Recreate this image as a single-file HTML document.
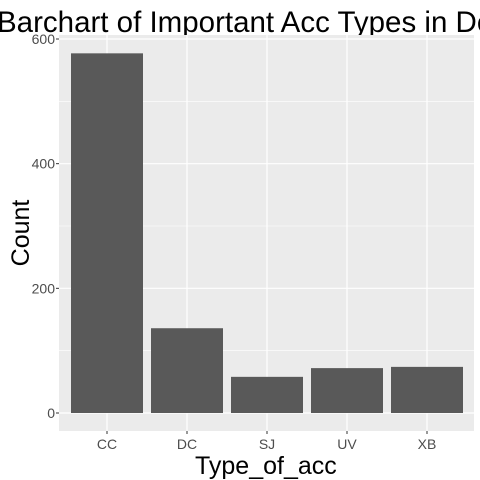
<!DOCTYPE html>
<html><head><meta charset="utf-8"><style>body{margin:0;background:#fff}svg{display:block}text{font-family:"Liberation Sans",Arial,sans-serif}</style></head>
<body>
<svg id="c" width="480" height="480" xmlns="http://www.w3.org/2000/svg">
<text x="-3" y="32" font-size="29.5" fill="#000">Barchart of Important Acc Types in Dec</text>
<text x="195" y="474" font-size="25" fill="#000">Type_of_acc</text>
<text transform="translate(29,233) rotate(-90)" text-anchor="middle" font-size="25" fill="#000">Count</text>
<g id="g"></g>
</svg>
<script>
const categories=["CC","DC","SJ","UV","XB"];
const counts=[577,136,58,72,74];
const yTicks=[0,200,400,600];
const L=59,R=474,T=35,B=431,y0=413,k=374/600,band=80,cx0=107;
const y=v=>y0-v*k, x=i=>cx0+i*band;
const ns="http://www.w3.org/2000/svg",g=document.getElementById('g');
function mk(t,a,p){const e=document.createElementNS(ns,t);for(const n in a)e.setAttribute(n,a[n]);(p||g).appendChild(e);return e;}
const panel=mk('rect',{x:L,y:T,width:R-L,height:B-T,fill:'#ebebeb'});


for(let i=0;i<yTicks.length-1;i++){const m=(yTicks[i]+yTicks[i+1])/2;const l=mk('line',{x1:L,x2:R,y1:y(m),y2:y(m),stroke:'#fff','stroke-width':0.6});

}
yTicks.forEach(v=>{const l=mk('line',{x1:L,x2:R,y1:y(v),y2:y(v),stroke:'#fff','stroke-width':1.2});


const tk=mk('line',{x1:L-3,x2:L,y1:y(v),y2:y(v),stroke:'#333','stroke-width':1});


const t=mk('text',{x:L-4,y:y(v)+5,'text-anchor':'end','font-size':14,fill:'#4d4d4d'});t.textContent=v;

});
categories.forEach((c,i)=>{const l=mk('line',{x1:x(i),x2:x(i),y1:T,y2:B,stroke:'#fff','stroke-width':1.2});

});
categories.forEach((c,i)=>{const b=mk('rect',{x:x(i)-36,y:y(counts[i]),width:72,height:y(0)-y(counts[i]),fill:'#595959'});


const tk=mk('line',{x1:x(i),x2:x(i),y1:B,y2:B+3,stroke:'#333','stroke-width':1});


const t=mk('text',{x:x(i),y:B+18,'text-anchor':'middle','font-size':14,fill:'#4d4d4d'});t.textContent=c;

});
</script>
</body></html>
